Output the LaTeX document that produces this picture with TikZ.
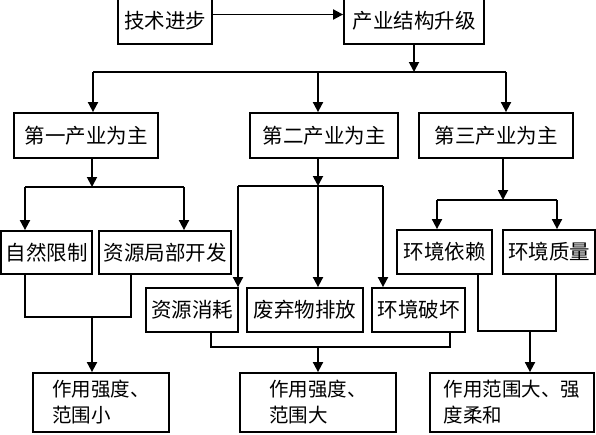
\documentclass[tikz,border=0pt]{standalone}
\usepackage{fontspec}
\newfontfamily\cjk{Noto Sans CJK SC}
\usetikzlibrary{arrows.meta}
\tikzset{
  box/.style={draw, line width=1.8pt, inner sep=0pt, align=left,
    font=\cjk\fontsize{20.5}{26}\selectfont},
  twoline/.style={font=\cjk\fontsize{19.5}{26}\selectfont},
  ln/.style={line width=1.8pt},
  arr/.style={line width=1.8pt, -{Triangle[length=10pt,width=10pt]}}
}
\begin{document}
\begin{tikzpicture}[x=1pt,y=-1pt]
\useasboundingbox (0,0) rectangle (596,434);
\clip (0,0) rectangle (596,434);
% top
\node[box, minimum width=94, minimum height=47] (tech) at (165,20.5) {技术进步};
\node[box, minimum width=140, minimum height=47] (ind) at (414,20.5) {产业结构升级};
% level 2
\node[box, minimum width=144, minimum height=45] (p1) at (86,135.5) {第一产业为主};
\node[box, minimum width=148, minimum height=45] (p2) at (324,135.5) {第二产业为主};
\node[box, minimum width=154, minimum height=45] (p3) at (496,135.5) {第三产业为主};
% level 3
\node[box, minimum width=91, minimum height=43] (zr) at (46.5,252.5) {自然限制};
\node[box, minimum width=132, minimum height=43] (zy) at (165,252.5) {资源局部开发};
\node[box, minimum width=95, minimum height=44] (hy) at (444.5,252) {环境依赖};
\node[box, minimum width=92, minimum height=44] (hz) at (549,252) {环境质量};
% level 4
\node[box, minimum width=92, minimum height=44] (zx) at (192,310) {资源消耗};
\node[box, minimum width=116, minimum height=44] (fq) at (305,310) {废弃物排放};
\node[box, minimum width=93, minimum height=44] (hp) at (418.5,310) {环境破坏};
% bottom
\node[box, twoline, minimum width=136, minimum height=59] (b1) at (101,402.5) {作用强度、\\范围小};
\node[box, twoline, minimum width=156, minimum height=59] (b2) at (318,402.5) {作用强度、\\范围大};
\node[box, twoline, minimum width=164, minimum height=59] (b3) at (512,402.5) {作用范围大、强\\度柔和};
% connectors top
\draw[arr] ([yshift=6pt]tech.east) -- ([yshift=6pt]ind.west);
\coordinate (bus) at (414,72);
\coordinate (j1) at (93,72);
\coordinate (j2) at (318,72);
\coordinate (j3) at (506,72);
\draw[arr] (ind.south) -- (bus);
\draw[ln] (j1) -- (j3);
\draw[arr] (j1) -- (j1 |- p1.north);
\draw[arr] (j2) -- (j2 |- p2.north);
\draw[arr] (j3) -- (j3 |- p3.north);
% first
\coordinate (k1) at (92,187);
\coordinate (k1a) at (25,187);
\coordinate (k1b) at (184,187);
\draw[arr] (p1.south -| k1) -- (k1);
\draw[ln] (k1a) -- (k1b);
\draw[arr] (k1a) -- (k1a |- zr.north);
\draw[arr] (k1b) -- (k1b |- zy.north);
% second
\coordinate (k2) at (318,186);
\coordinate (k2a) at (238,186);
\coordinate (k2b) at (383,186);
\draw[arr] (p2.south -| k2) -- (k2);
\draw[ln] (k2a) -- (k2b);
\draw[arr] (k2a) -- (k2a |- zx.north);
\draw[arr] (k2) -- (k2 |- fq.north);
\draw[arr] (k2b) -- (k2b |- hp.north);
% third
\coordinate (k3) at (503,200);
\coordinate (k3a) at (437,200);
\coordinate (k3b) at (557,200);
\draw[arr] (p3.south -| k3) -- (k3);
\draw[ln] (k3a) -- (k3b);
\draw[arr] (k3a) -- (k3a |- hy.north);
\draw[arr] (k3b) -- (k3b |- hz.north);
% bottom joins
\coordinate (m1a) at (25,317);
\coordinate (m1b) at (131,317);
\coordinate (m1) at (92,317);
\draw[ln] (zr.south -| m1a) -- (m1a) -- (m1b) -- (zy.south -| m1b);
\draw[arr] (m1) -- (m1 |- b1.north);
\coordinate (m2a) at (211,347);
\coordinate (m2b) at (450,347);
\coordinate (m2) at (318,347);
\draw[ln] (zx.south -| m2a) -- (m2a) -- (m2b) -- (hp.south -| m2b);
\draw[arr] (m2) -- (m2 |- b2.north);
\coordinate (m3a) at (478,331);
\coordinate (m3b) at (556,331);
\coordinate (m3) at (530,331);
\draw[ln] (hy.south -| m3a) -- (m3a) -- (m3b) -- (hz.south -| m3b);
\draw[arr] (m3) -- (m3 |- b3.north);
\end{tikzpicture}
\end{document}
